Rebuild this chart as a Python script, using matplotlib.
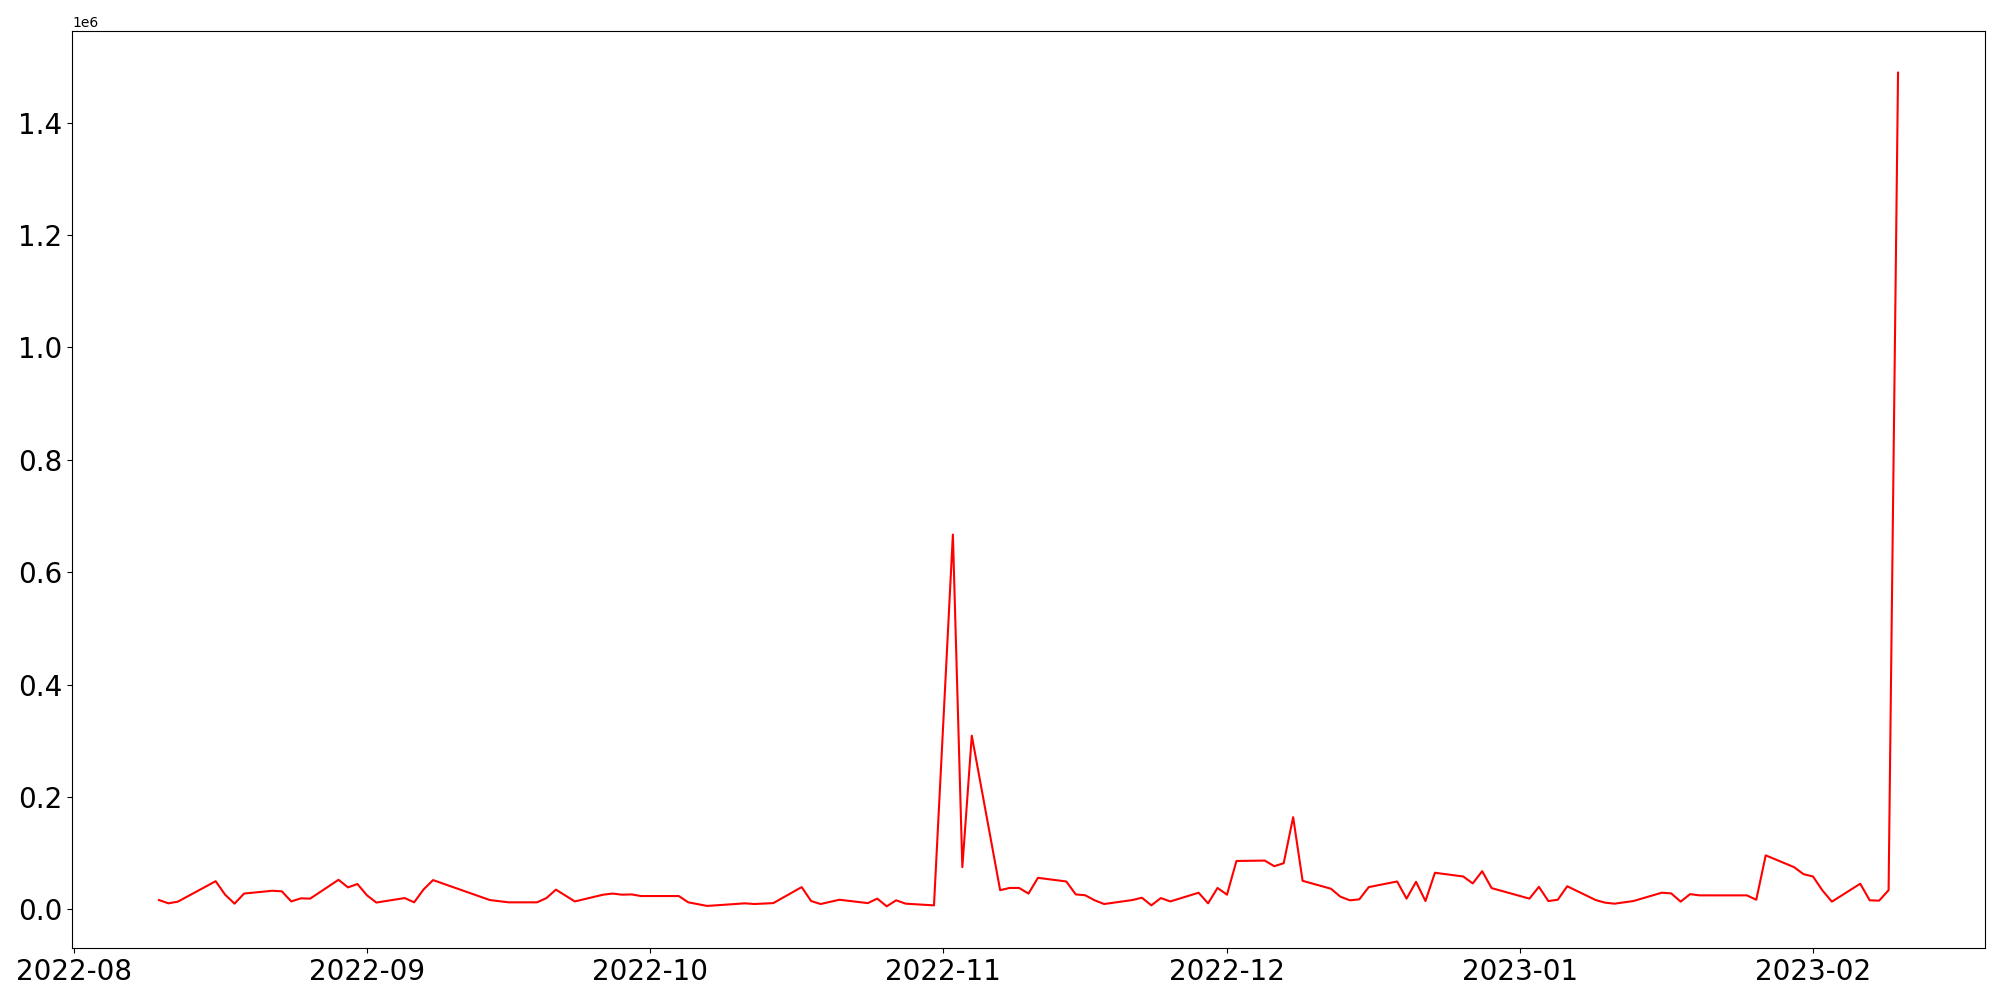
import matplotlib
matplotlib.use("Agg")
import matplotlib.pyplot as plt
import pandas as pd

# daily values (business days, with gaps)
dates = [
    "2022-08-10", "2022-08-11", "2022-08-12", "2022-08-16", "2022-08-17", "2022-08-18",
    "2022-08-19", "2022-08-22", "2022-08-23", "2022-08-24", "2022-08-25", "2022-08-26",
    "2022-08-29", "2022-08-30", "2022-08-31", "2022-09-01", "2022-09-02", "2022-09-05",
    "2022-09-06", "2022-09-07", "2022-09-08", "2022-09-14", "2022-09-16", "2022-09-19",
    "2022-09-20", "2022-09-21", "2022-09-23", "2022-09-26", "2022-09-27", "2022-09-28",
    "2022-09-29", "2022-09-30", "2022-10-04", "2022-10-05", "2022-10-07", "2022-10-11",
    "2022-10-12", "2022-10-14", "2022-10-17", "2022-10-18", "2022-10-19", "2022-10-21",
    "2022-10-24", "2022-10-25", "2022-10-26", "2022-10-27", "2022-10-28", "2022-10-31",
    "2022-11-02", "2022-11-03", "2022-11-04", "2022-11-07", "2022-11-08", "2022-11-09",
    "2022-11-10", "2022-11-11", "2022-11-14", "2022-11-15", "2022-11-16", "2022-11-17",
    "2022-11-18", "2022-11-21", "2022-11-22", "2022-11-23", "2022-11-24", "2022-11-25",
    "2022-11-28", "2022-11-29", "2022-11-30", "2022-12-01", "2022-12-02", "2022-12-05",
    "2022-12-06", "2022-12-07", "2022-12-08", "2022-12-09", "2022-12-12", "2022-12-13",
    "2022-12-14", "2022-12-15", "2022-12-16", "2022-12-19", "2022-12-20", "2022-12-21",
    "2022-12-22", "2022-12-23", "2022-12-26", "2022-12-27", "2022-12-28", "2022-12-29",
    "2023-01-02", "2023-01-03", "2023-01-04", "2023-01-05", "2023-01-06", "2023-01-09",
    "2023-01-10", "2023-01-11", "2023-01-13", "2023-01-16", "2023-01-17", "2023-01-18",
    "2023-01-19", "2023-01-20", "2023-01-25", "2023-01-26", "2023-01-27", "2023-01-30",
    "2023-01-31", "2023-02-01", "2023-02-02", "2023-02-03", "2023-02-06", "2023-02-07",
    "2023-02-08", "2023-02-09", "2023-02-10",
]
values = [
    16500, 10600, 13600, 50000, 26000, 10000,
    28000, 33000, 32000, 14000, 19500, 19000,
    52500, 39000, 45000, 25000, 12000, 20000,
    12400, 35400, 52000, 16500, 12400, 12400,
    20000, 35000, 14000, 26000, 28000, 26000,
    26500, 23600, 23600, 12400, 6000, 10600,
    9400, 11000, 39500, 14700, 9400, 17000,
    11000, 19000, 5300, 16000, 10000, 7000,
    667000, 75000, 309000, 34000, 38000, 38000,
    28000, 56000, 49500, 26500, 25000, 16000,
    9400, 16500, 20600, 7000, 20000, 14000,
    29500, 10600, 38000, 26000, 86000, 86700,
    76700, 82000, 164000, 50700, 36600, 22400,
    16000, 17700, 39500, 49500, 19000, 49000,
    14700, 65000, 58400, 46000, 67800, 37700,
    19000, 40000, 14700, 17000, 41000, 16500,
    11800, 10000, 14700, 29500, 28300, 13600,
    27000, 24800, 24800, 17000, 96000, 75000,
    62500, 58400, 33600, 13600, 45500, 16000,
    15400, 34000, 1489000,
]

x = pd.to_datetime(dates)

fig, ax = plt.subplots(figsize=(20, 10), dpi=100)
fig.subplots_adjust(left=0.036, right=0.9925, bottom=0.052, top=0.969)

ax.plot(x, values, color="red", linewidth=1.5)
ax.tick_params(axis="both", labelsize=20)

plt.savefig("out.png", dpi=100)
